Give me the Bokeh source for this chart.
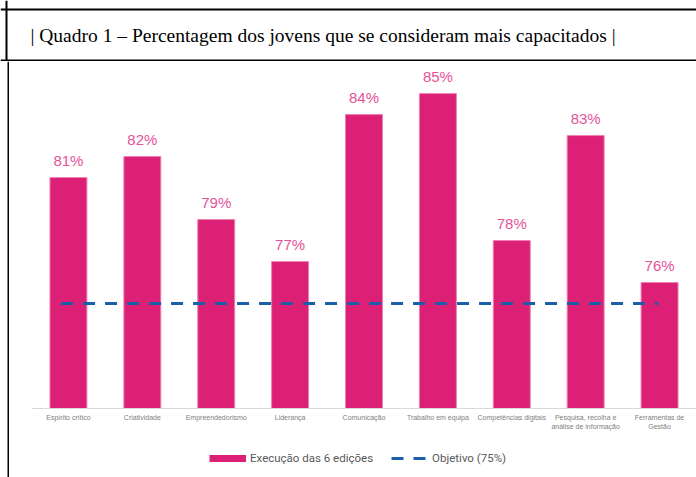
import json
from bokeh.plotting import figure
from bokeh.models import (Range1d, FactorRange, Span, Label, Legend, LegendItem,
                          CategoricalAxis, CustomJSTickFormatter)
from bokeh.layouts import column, row
from bokeh.core.properties import value
from bokeh.embed import file_html
from bokeh.resources import INLINE

# ---- data ----
title_text = "| Quadro 1 – Percentagem dos jovens que se consideram mais capacitados |"
categories = [
    "Espírito crítico",
    "Criatividade",
    "Empreendedorismo",
    "Liderança",
    "Comunicação",
    "Trabalho em equipa",
    "Competências digitais",
    "Pesquisa, recolha e análise de informação",
    "Ferramentas de Gestão",
]
tick_line1 = [
    "Espírito crítico",
    "Criatividade",
    "Empreendedorismo",
    "Liderança",
    "Comunicação",
    "Trabalho em equipa",
    "Competências digitais",
    "Pesquisa, recolha e",
    "Ferramentas de",
]
tick_line2 = ["", "", "", "", "", "", "", "análise de informação", "Gestão"]
values = [81, 82, 79, 77, 84, 85, 78, 83, 76]
objective = 75
series_names = ["Execução das 6 edições", "Objetivo (75%)"]

BAR = "#DB2075"
LBL = "#E4539A"
BLUE = "#1A5FA8"
W = 696
NAN = float("nan")


def bare(width, height):
    f = figure(width=width, height=height, toolbar_location=None, output_backend="svg",
               x_range=Range1d(0, 1), y_range=Range1d(0, 1),
               min_border=0, outline_line_color=None, x_axis_location=None,
               y_axis_location=None)
    f.grid.visible = False
    return f


# ---- title box ----
TH = 61
top = bare(W, TH)
for loc in (52, 1):
    top.add_layout(Span(location=loc, location_units="screen", dimension="width",
                        line_color="black", line_width=2))
top.add_layout(Span(location=6, location_units="screen", dimension="height",
                    line_color="black", line_width=2))
top.add_layout(Label(x=30, y=26, x_units="screen", y_units="screen", text=title_text,
                     text_font="Liberation Serif", text_font_size="19.5px",
                     text_baseline="middle", text_color="black"))

# ---- left border strip ----
H = 477 - TH
SW = 9
strip = bare(SW, H)
strip.add_layout(Span(location=8, location_units="screen", dimension="height",
                      line_color="black", line_width=2))

# ---- chart ----
PH = 377
p = figure(width=W - SW, height=PH, toolbar_location=None, output_backend="svg",
           x_range=FactorRange(factors=categories, range_padding=0),
           y_range=Range1d(70, 86.48),
           min_border_left=22, min_border_right=0, min_border_top=1,
           min_border_bottom=30, outline_line_color=None, y_axis_location=None)
p.grid.visible = False

p.vbar(x=categories, top=values, bottom=70, width=0.5,
       fill_color=BAR, line_color="#EE7FB2", line_width=1)
p.text(x=categories, y=values, text=[f"{v}%" for v in values],
       text_font=value("Liberation Sans"), text_font_size="15px",
       text_color=LBL, text_align="center", text_baseline="alphabetic",
       y_offset=-17)
p.line(x=[(categories[0], -0.1), (categories[-1], -0.02)],
       y=[objective, objective], line_color=BLUE, line_width=3,
       line_dash="12 10")


def style_axis(a, lines, standoff, line_color):
    mapping = json.dumps(dict(zip(categories, lines)), ensure_ascii=False)
    a.formatter = CustomJSTickFormatter(code=f"const m = {mapping}; return m[tick] ?? '';")
    a.axis_line_color = line_color
    a.major_tick_line_color = None
    a.minor_tick_line_color = None
    a.major_tick_out = 0
    a.major_label_standoff = standoff
    a.major_label_text_font = "Liberation Sans"
    a.major_label_text_font_size = "7px"
    a.major_label_text_color = "#808080"


style_axis(p.xaxis[0], tick_line1, 5, "#D9D9D9")
ax2 = CategoricalAxis()
style_axis(ax2, tick_line2, -1, None)
p.add_layout(ax2, "below")

# ---- legend strip ----
lf = bare(W - SW, H - PH)
leg_bar = lf.line(x=[NAN], y=[NAN], line_color=BAR, line_width=7)
leg_obj = lf.line(x=[NAN], y=[NAN], line_color=BLUE, line_width=3, line_dash="12 10")
legend = Legend(items=[LegendItem(label=series_names[0], renderers=[leg_bar]),
                       LegendItem(label=series_names[1], renderers=[leg_obj])],
                orientation="horizontal", location=(178, 11),
                border_line_color=None, background_fill_alpha=0,
                padding=0, margin=0, spacing=18, glyph_width=37, glyph_height=16,
                label_height=16, label_standoff=4,
                label_text_font="Roboto",
                label_text_font_size="11.5px", label_text_color="#595959")
lf.add_layout(legend)

layout = column(top, row(strip, column(p, lf)))
open("out.html", "w").write(file_html(layout, INLINE))
